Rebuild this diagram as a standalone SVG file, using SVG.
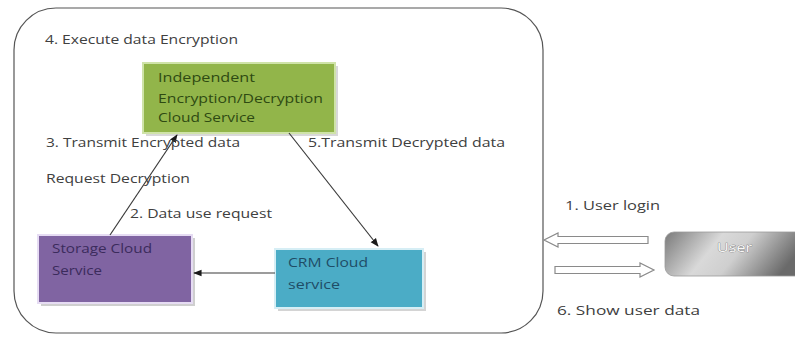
<svg xmlns="http://www.w3.org/2000/svg" width="795" height="338" viewBox="0 0 795 338">
<defs>
<style>
.lbl{font-family:"Open Sans","Liberation Sans",sans-serif;font-size:13.5px;fill:#404040}
.bt{font-family:"Open Sans","Liberation Sans",sans-serif;font-size:13.5px}
.con{stroke:#3a3a3a;stroke-width:1.2;fill:none}
.blk{fill:#ffffff;stroke:#8a8a8a;stroke-width:1.2}
</style>
<marker id="ah" viewBox="0 0 10 10" refX="9" refY="5" markerWidth="7" markerHeight="7" orient="auto">
<path d="M0,1 L10,5 L0,9 Z" fill="#1a1a1a"/>
</marker>
<linearGradient id="ug" x1="0" y1="0" x2="1" y2="0.25">
<stop offset="0" stop-color="#7a7a7a"/>
<stop offset="0.4" stop-color="#d9d9d9"/>
<stop offset="0.6" stop-color="#cfcfcf"/>
<stop offset="1" stop-color="#6a6a6a"/>
</linearGradient>
</defs>
<rect width="795" height="338" fill="#ffffff"/>
<g id="cloud-boundary">
<rect x="14" y="8" width="529" height="325" rx="42" ry="42" fill="#ffffff" stroke="#555555" stroke-width="1.2"/>
</g>
<g id="enc-service">
<rect x="146" y="66" width="192" height="70" fill="#d8d8d8"/>
<rect x="143" y="63" width="192" height="70" fill="#92b54a" stroke="#cfe3a8" stroke-width="2"/>
<text class="bt" fill="#2e4a12" x="158" y="82" textLength="97" lengthAdjust="spacingAndGlyphs">Independent</text>
<text class="bt" fill="#2e4a12" x="158" y="103" textLength="165" lengthAdjust="spacingAndGlyphs">Encryption/Decryption</text>
<text class="bt" fill="#2e4a12" x="158" y="122" textLength="97" lengthAdjust="spacingAndGlyphs">Cloud Service</text>
</g>
<g id="storage">
<rect x="41" y="238" width="154" height="68" fill="#cfcfcf"/>
<rect x="38" y="235" width="154" height="68" fill="#8064a2" stroke="#e6dcf3" stroke-width="2"/>
<text class="bt" fill="#3b2b5c" x="52" y="253" textLength="100" lengthAdjust="spacingAndGlyphs">Storage Cloud</text>
<text class="bt" fill="#3b2b5c" x="52" y="275" textLength="50" lengthAdjust="spacingAndGlyphs">Service</text>
</g>
<g id="crm">
<rect x="278" y="252" width="148" height="59" fill="#d4d4d4"/>
<rect x="275" y="249" width="148" height="59" fill="#4bacc6" stroke="#d6eef5" stroke-width="2"/>
<text class="bt" fill="#1f4d66" x="288" y="267" textLength="80" lengthAdjust="spacingAndGlyphs">CRM Cloud</text>
<text class="bt" fill="#1f4d66" x="288" y="289" textLength="52" lengthAdjust="spacingAndGlyphs">service</text>
</g>
<g id="user">
<rect x="665" y="232" width="140" height="44" rx="9" ry="9" fill="url(#ug)" stroke="#9a9a9a" stroke-width="0.8"/>
<text class="bt" fill="#f8f8f8" stroke="#707070" stroke-width="0.6" paint-order="stroke" x="717" y="252" textLength="35" lengthAdjust="spacingAndGlyphs">User</text>
</g>
<g id="connectors">
<line class="con" x1="110" y1="235" x2="177" y2="135" marker-end="url(#ah)"/>
<line class="con" x1="289" y1="133" x2="378" y2="246" marker-end="url(#ah)"/>
<line class="con" x1="275" y1="273" x2="194" y2="273" marker-end="url(#ah)"/>
<path class="blk" d="M648,236.5 L558,236.5 L558,233 L544,240 L558,247 L558,243.5 L648,243.5 Z"/>
<path class="blk" d="M555,266.5 L640,266.5 L640,263 L654,270 L640,277 L640,273.5 L555,273.5 Z"/>
</g>
<g id="labels">
<text class="lbl" x="45" y="44" textLength="193" lengthAdjust="spacingAndGlyphs">4. Execute data Encryption</text>
<text class="lbl" x="46" y="147" textLength="194" lengthAdjust="spacingAndGlyphs">3. Transmit Encrypted data</text>
<text class="lbl" x="308" y="147" textLength="197" lengthAdjust="spacingAndGlyphs">5.Transmit Decrypted data</text>
<text class="lbl" x="46" y="183" textLength="144" lengthAdjust="spacingAndGlyphs">Request Decryption</text>
<text class="lbl" x="130" y="218" textLength="142" lengthAdjust="spacingAndGlyphs">2. Data use request</text>
<text class="lbl" x="565" y="210" textLength="95" lengthAdjust="spacingAndGlyphs">1. User login</text>
<text class="lbl" x="557" y="315" textLength="143" lengthAdjust="spacingAndGlyphs">6. Show user data</text>
</g>
</svg>
